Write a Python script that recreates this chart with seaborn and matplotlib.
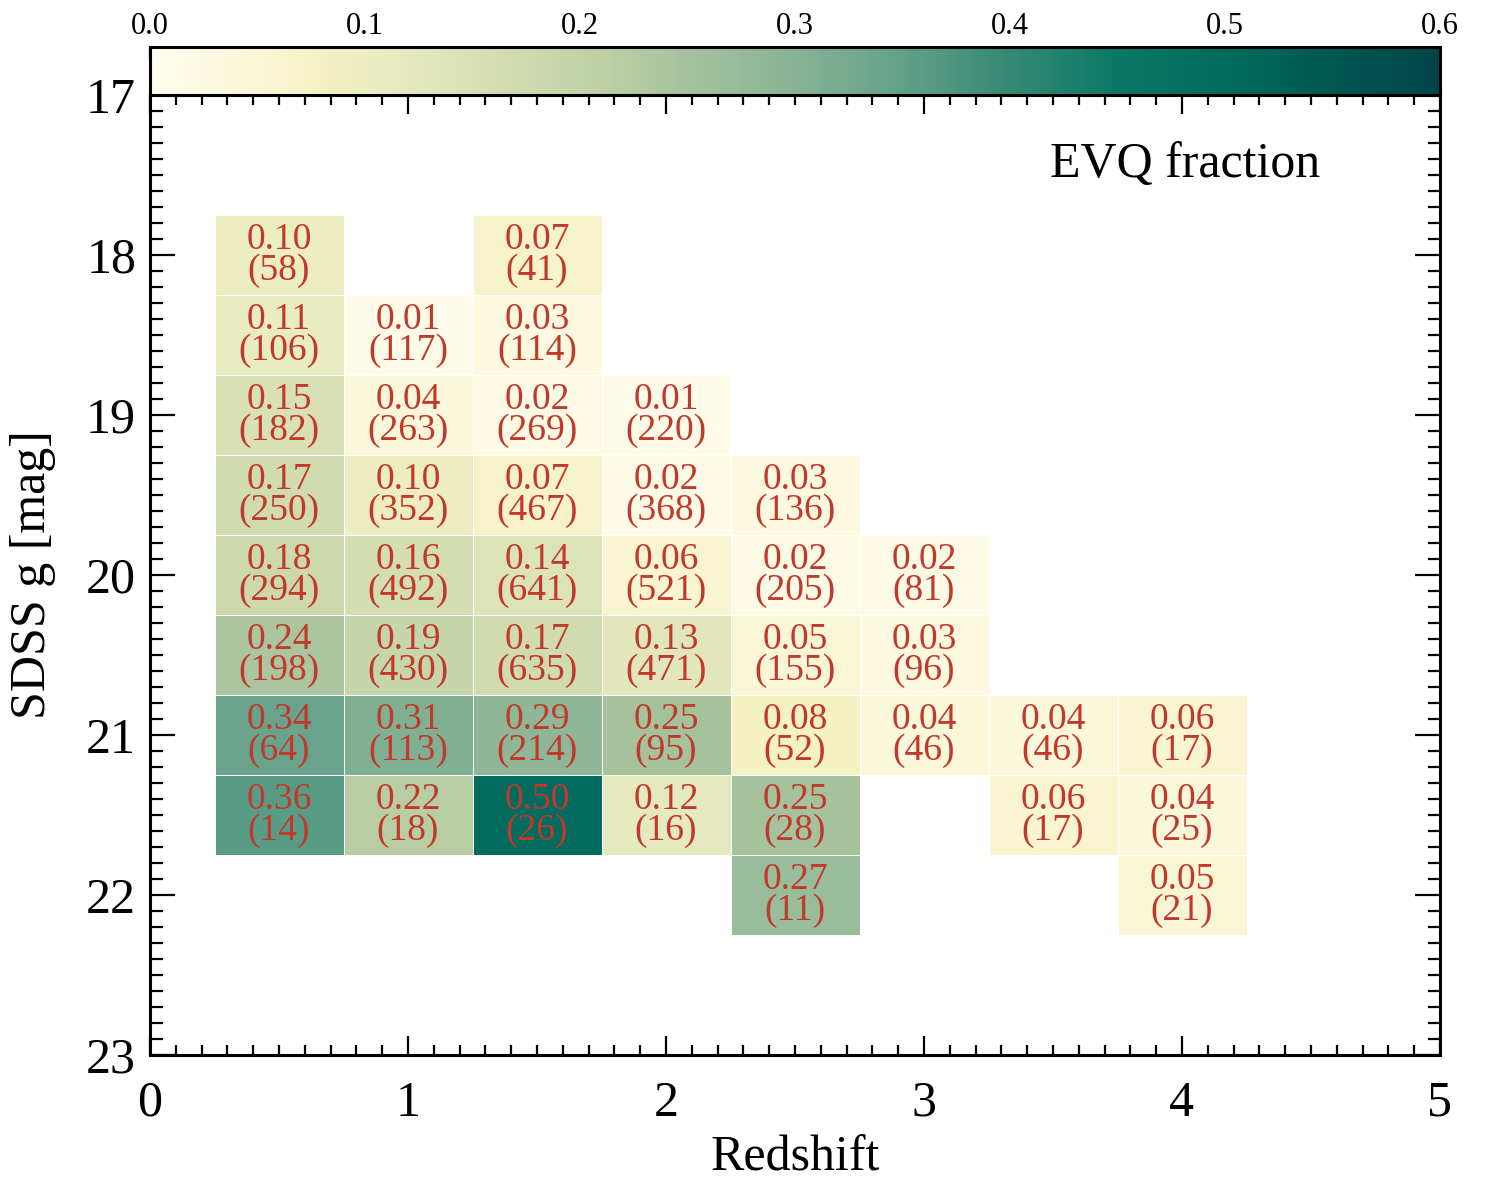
import numpy as np
import pandas as pd
import matplotlib
matplotlib.use('Agg')
import matplotlib.pyplot as plt
from matplotlib.colors import LinearSegmentedColormap
from matplotlib.ticker import MultipleLocator, FormatStrFormatter
import seaborn as sns

# bin centres
redshift = [0.5, 1.0, 1.5, 2.0, 2.5, 3.0, 3.5, 4.0]
gmag = [18.0, 18.5, 19.0, 19.5, 20.0, 20.5, 21.0, 21.5, 22.0]

# EVQ fraction per bin (rows = g mag, cols = redshift), None = empty bin
frac = [
    [0.10, None, 0.07, None, None, None, None, None],
    [0.11, 0.01, 0.03, None, None, None, None, None],
    [0.15, 0.04, 0.02, 0.01, None, None, None, None],
    [0.17, 0.10, 0.07, 0.02, 0.03, None, None, None],
    [0.18, 0.16, 0.14, 0.06, 0.02, 0.02, None, None],
    [0.24, 0.19, 0.17, 0.13, 0.05, 0.03, None, None],
    [0.34, 0.31, 0.29, 0.25, 0.08, 0.04, 0.04, 0.06],
    [0.36, 0.22, 0.50, 0.12, 0.25, None, 0.06, 0.04],
    [None, None, None, None, 0.27, None, None, 0.05],
]
# number of quasars per bin
count = [
    [58, None, 41, None, None, None, None, None],
    [106, 117, 114, None, None, None, None, None],
    [182, 263, 269, 220, None, None, None, None],
    [250, 352, 467, 368, 136, None, None, None],
    [294, 492, 641, 521, 205, 81, None, None],
    [198, 430, 635, 471, 155, 96, None, None],
    [64, 113, 214, 95, 52, 46, 46, 17],
    [14, 18, 26, 16, 28, None, 17, 25],
    [None, None, None, None, 11, None, None, 21],
]

# long table of the filled bins
rows = []
for i, g in enumerate(gmag):
    for j, z in enumerate(redshift):
        if frac[i][j] is not None:
            rows.append({'z': z, 'g': g, 'frac': frac[i][j], 'n': count[i][j]})
df = pd.DataFrame(rows)

sns.set_style('ticks')
plt.rcParams['font.family'] = ['Liberation Serif', 'DejaVu Serif']
plt.rcParams['xtick.direction'] = 'in'
plt.rcParams['ytick.direction'] = 'in'
for k in ['text.color', 'axes.labelcolor', 'xtick.color', 'ytick.color', 'axes.edgecolor']:
    plt.rcParams[k] = 'black'

# cream -> sage -> teal colour scale, stops on 0..0.6
stops = [(0.0, '#fffdee'), (0.05, '#f9f6d5'), (0.08, '#f4f1c3'), (0.12, '#e5e9c0'),
         (0.16, '#d5ddb2'), (0.2, '#c3d3a8'), (0.25, '#a5c29d'), (0.3, '#88b395'),
         (0.35, '#62a089'), (0.4, '#358a74'), (0.45, '#0a7865'), (0.5, '#006b5e'),
         (0.55, '#005852'), (0.6, '#00444a')]
cmap = LinearSegmentedColormap.from_list('evq', [(v / 0.6, c) for v, c in stops])

fig = plt.figure(figsize=(15, 12), dpi=100)
ax = fig.add_axes([0.1, 0.1208, 0.86, 0.8])
cax = fig.add_axes([0.1, 0.9208, 0.86, 0.04])

xedges = np.arange(0.25, 4.26, 0.5)
yedges = np.arange(17.75, 22.26, 0.5)
sns.histplot(data=df, x='z', y='g', weights='frac', bins=(xedges, yedges),
             cmap=cmap, vmin=0, vmax=0.6, edgecolor='white', linewidth=0.6,
             cbar=True, cbar_ax=cax, cbar_kws={'orientation': 'horizontal'}, ax=ax)
ax.collections[0].set_clim(0, 0.6)

for _, r in df.iterrows():
    ax.text(r['z'], r['g'], '%.2f\n(%d)' % (r['frac'], r['n']), ha='center', va='center',
            color='#c0392b', fontsize=27, linespacing=0.88)

ax.set_xlim(0, 5)
ax.set_ylim(23, 17)
ax.xaxis.set_major_locator(MultipleLocator(1))
ax.xaxis.set_minor_locator(MultipleLocator(0.1))
ax.yaxis.set_major_locator(MultipleLocator(1))
ax.yaxis.set_minor_locator(MultipleLocator(0.1))
ax.tick_params(axis='x', which='major', length=14, width=1.6, top=True, labelsize=36, pad=18)
ax.tick_params(axis='x', which='minor', length=7, width=1.6, top=True)
ax.tick_params(axis='y', which='major', length=18, width=1.6, right=True, labelsize=36, pad=10)
ax.tick_params(axis='y', which='minor', length=9, width=1.6, right=True)
for s in ax.spines.values():
    s.set_linewidth(2.2)
    s.set_visible(True)
ax.set_xlabel('Redshift', fontsize=36, labelpad=6)
ax.set_ylabel('SDSS g [mag]', fontsize=36, labelpad=22)
ax.text(0.907, 0.927, 'EVQ fraction', transform=ax.transAxes, ha='right', va='center',
        fontsize=36)

cax.xaxis.set_ticks_position('top')
cax.xaxis.set_label_position('top')
cax.xaxis.set_major_locator(MultipleLocator(0.1))
cax.xaxis.set_minor_locator(MultipleLocator(0.05))
cax.xaxis.set_major_formatter(FormatStrFormatter('%.1f'))
cax.tick_params(axis='x', which='major', direction='in', length=9, width=1.6,
                labelsize=22, pad=4, top=True, bottom=False)
cax.tick_params(axis='x', which='minor', direction='in', length=4, width=1.6,
                top=True, bottom=False)
for s in cax.spines.values():
    s.set_linewidth(2.2)
cax.set_xlim(0, 0.6)

fig.savefig('out.png', dpi=100)
